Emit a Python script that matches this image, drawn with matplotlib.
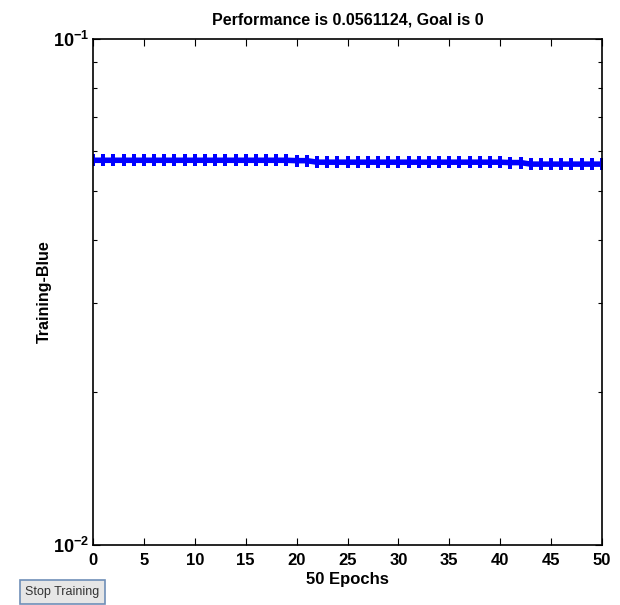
import matplotlib
matplotlib.use("Agg")
import matplotlib.pyplot as plt
from matplotlib.ticker import FixedLocator, FixedFormatter, LogLocator, NullFormatter

# training performance per epoch
epochs = list(range(0, 51))
perf = [0.0575, 0.0575, 0.0575, 0.0575, 0.0575, 0.0575, 0.0575, 0.0575, 0.0575, 0.0575,
        0.0575, 0.0575, 0.0575, 0.0575, 0.0575, 0.0575, 0.0575, 0.0575, 0.0575, 0.0575,
        0.0574, 0.0574, 0.0570, 0.0570, 0.0570, 0.0570, 0.0570, 0.0570, 0.0570, 0.0570,
        0.0570, 0.0570, 0.0570, 0.0570, 0.0570, 0.0570, 0.0570, 0.0570, 0.0570, 0.0570,
        0.0570, 0.0569, 0.0569, 0.0565, 0.0565, 0.0565, 0.0565, 0.0565, 0.0565, 0.0565, 0.0565]

x_ticks = [0, 5, 10, 15, 20, 25, 30, 35, 40, 45, 50]
y_ticks = [0.01, 0.1]
y_tick_labels = [r'$\mathbf{10^{-2}}$', r'$\mathbf{10^{-1}}$']

title = "Performance is 0.0561124, Goal is 0"
xlabel = "50 Epochs"
ylabel = "Training-Blue"

plt.rcParams['font.family'] = ['Liberation Sans', 'DejaVu Sans']
plt.rcParams['mathtext.fontset'] = 'custom'
plt.rcParams['mathtext.bf'] = 'Liberation Sans:bold'
plt.rcParams['mathtext.rm'] = 'Liberation Sans:bold'

fig = plt.figure(figsize=(6.2, 6.05), dpi=100)
ax = fig.add_axes([0.15, 0.1, 0.821, 0.836])

ax.plot(epochs, perf, color='blue', linewidth=4, marker='P', markersize=9,
        markeredgewidth=0)

ax.set_yscale('log')
ax.set_xlim(0, 50)
ax.set_ylim(0.01, 0.1)

ax.xaxis.set_major_locator(FixedLocator(x_ticks))
ax.yaxis.set_major_locator(FixedLocator(y_ticks))
ax.yaxis.set_major_formatter(FixedFormatter(y_tick_labels))
ax.yaxis.set_minor_locator(LogLocator(base=10, subs=range(2, 10)))
ax.yaxis.set_minor_formatter(NullFormatter())

ax.tick_params(which='both', direction='in', top=True, right=True, width=0.8)
ax.tick_params(which='major', length=5)
ax.tick_params(which='minor', length=3)
ax.tick_params(axis='x', labelsize=12, pad=6)
ax.tick_params(axis='y', labelsize=13, pad=3)
for lbl in ax.get_xticklabels():
    lbl.set_fontweight('bold')

for sp in ax.spines.values():
    sp.set_linewidth(1.2)

ax.set_title(title, fontsize=11.5, fontweight='bold', pad=10)
ax.set_xlabel(xlabel, fontsize=12, fontweight='bold', labelpad=3)
ax.set_ylabel(ylabel, fontsize=11.5, fontweight='bold')
ax.yaxis.set_label_coords(-0.08, 0.5)

# the gui button in the lower-left corner
fig.text(0.101, 0.0215, "Stop Training", fontsize=9, ha='center', va='center', color='#333333',
         bbox=dict(boxstyle='square,pad=0.45', facecolor='#e6e6e6', edgecolor='#6f8fb8', linewidth=1.2))

fig.savefig("out.png", dpi=100)
